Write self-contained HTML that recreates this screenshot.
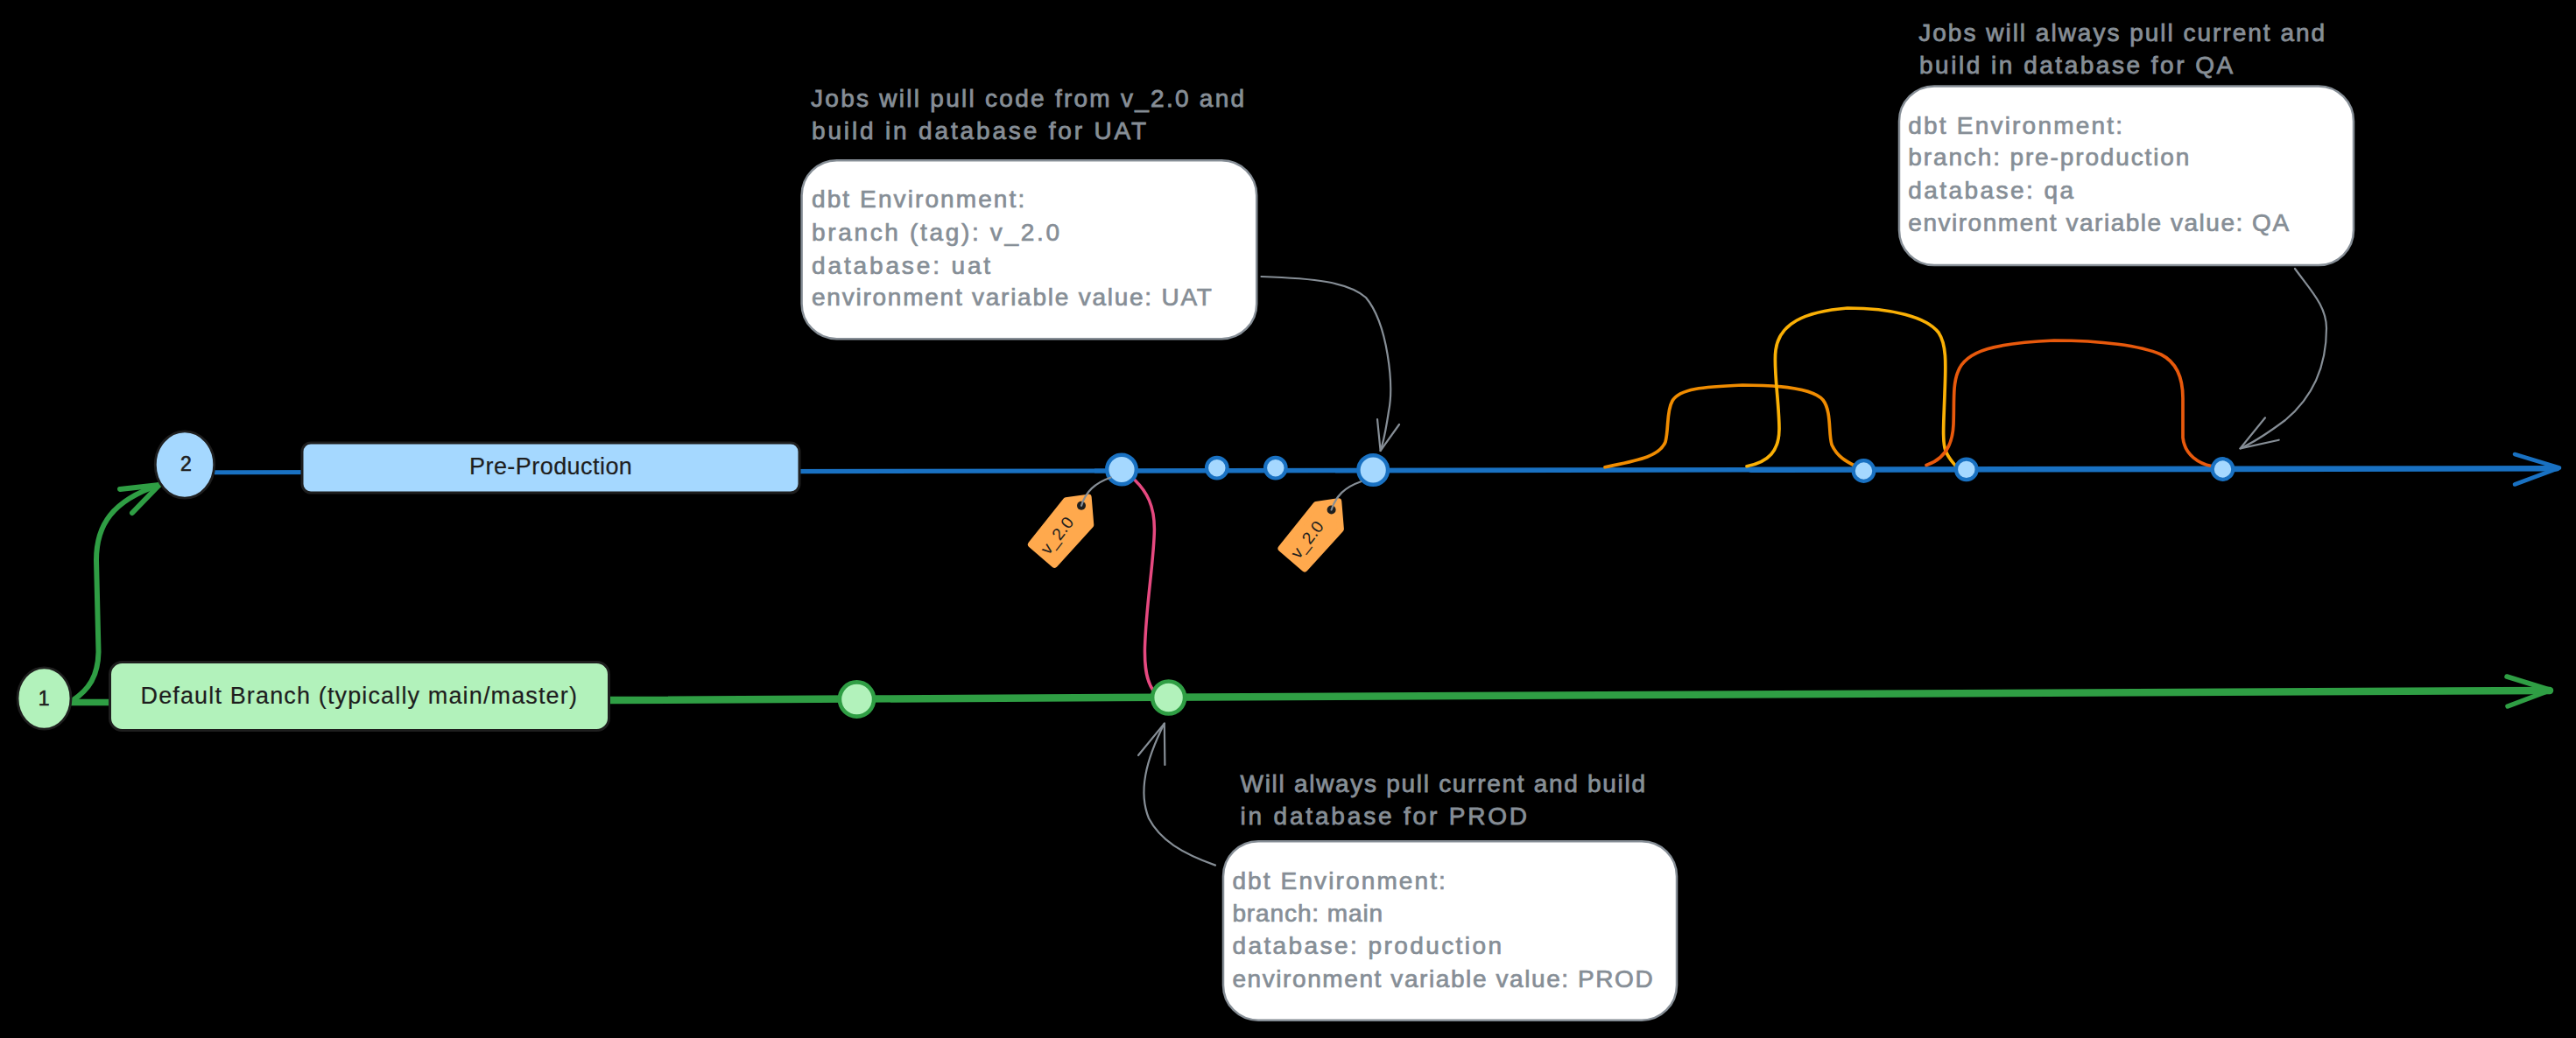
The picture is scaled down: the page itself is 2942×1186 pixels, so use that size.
<!DOCTYPE html>
<html><head><meta charset="utf-8"><style>
html,body{margin:0;padding:0;background:#000;overflow:hidden}
svg{display:block}
text{font-family:"Liberation Sans", sans-serif}
</style></head><body>
<svg width="2942" height="1186" viewBox="0 0 2942 1186">
<rect width="2942" height="1186" fill="#000"/>
<path d="M245,539.70 L1250,538.03" fill="none" stroke="#1971c2" stroke-width="5.1"/>
<path d="M1250,538.03 L2000,536.79" fill="none" stroke="#1971c2" stroke-width="5.6"/>
<path d="M2000,536.79 L2920,535.26" fill="none" stroke="#1971c2" stroke-width="6.6" stroke-linecap="round"/>
<path d="M2872,519 L2923,534.5 L2872,553.5" fill="none" stroke="#1971c2" stroke-width="4.6" stroke-linecap="round" stroke-linejoin="round"/>
<path d="M80,802.4 L124,802.4" fill="none" stroke="#2f9e44" stroke-width="7.5"/>
<path d="M697,799.96 L2912,789.00" fill="none" stroke="#2f9e44" stroke-width="8.5" stroke-linecap="round"/>
<path d="M2863,773 L2913,788.5 L2864,807" fill="none" stroke="#2f9e44" stroke-width="5.5" stroke-linecap="round" stroke-linejoin="round"/>
<path d="M82,801 C102,788 112,772 112.5,745 L110,640 C110,600 128,572 182,554" fill="none" stroke="#2f9e44" stroke-width="6" stroke-linecap="round"/>
<path d="M137,559 L182,554 L151,586" fill="none" stroke="#2f9e44" stroke-width="6" stroke-linecap="round" stroke-linejoin="round"/>
<path d="M1833,533.8 C1870,526 1895,522 1902,505 C1906,490 1903,470 1910,458 C1918,444 1945,442 1990,440 C2030,440 2070,443 2082,457 C2092,470 2088,495 2092,508 C2098,522 2110,528 2118,532" fill="none" stroke="#f08c00" stroke-width="3.7" stroke-linecap="round"/>
<path d="M1995,532.7 C2020,528 2032,515 2032,490 C2032,460 2025,420 2028,400 C2032,370 2060,356 2110,352 C2160,352 2200,362 2214,380 C2224,395 2222,420 2221,450 C2220,480 2218,505 2222,515 C2226,525 2232,530 2234,533" fill="none" stroke="#fab005" stroke-width="3.7" stroke-linecap="round"/>
<path d="M2200,531.5 C2220,525 2230,510 2231,485 C2232,460 2230,440 2236,425 C2245,400 2280,392 2346,389 C2400,389 2445,395 2468,405 C2488,415 2493,435 2493,455 L2493,500 C2495,520 2512,530 2526,532.5" fill="none" stroke="#e8590c" stroke-width="3.7" stroke-linecap="round"/>
<path d="M1295.6,548 C1310,562 1318.5,578 1318.4,605 C1318,640 1309,690 1307.5,740 C1307,765 1310,778 1316.4,788" fill="none" stroke="#e64980" stroke-width="3.5" stroke-linecap="round"/>
<rect x="345" y="506" width="568" height="57" rx="10" fill="#a5d8ff" stroke="#1e1e1e" stroke-width="3"/>
<rect x="125.5" y="756.5" width="570" height="78" rx="14" fill="#b2f2bb" stroke="#1e1e1e" stroke-width="3"/>
<ellipse cx="211" cy="531" rx="33.7" ry="38.2" fill="#a5d8ff" stroke="#1e1e1e" stroke-width="2.8"/>
<ellipse cx="50.5" cy="798" rx="30.5" ry="35.1" fill="#b2f2bb" stroke="#1e1e1e" stroke-width="2.8"/>
<circle cx="1281" cy="536.5" r="16.8" fill="#a5d8ff" stroke="#1971c2" stroke-width="4.4"/>
<circle cx="1389.8" cy="534.7" r="11.8" fill="#a5d8ff" stroke="#1971c2" stroke-width="4.2"/>
<circle cx="1456.8" cy="534.7" r="11.8" fill="#a5d8ff" stroke="#1971c2" stroke-width="4.2"/>
<circle cx="1568.2" cy="537" r="16.8" fill="#a5d8ff" stroke="#1971c2" stroke-width="4.4"/>
<circle cx="2128.5" cy="538" r="11.8" fill="#a5d8ff" stroke="#1971c2" stroke-width="4.2"/>
<circle cx="2245.8" cy="536.4" r="11.8" fill="#a5d8ff" stroke="#1971c2" stroke-width="4.2"/>
<circle cx="2538.5" cy="536" r="11.8" fill="#a5d8ff" stroke="#1971c2" stroke-width="4.2"/>
<circle cx="978.5" cy="799" r="19.6" fill="#b2f2bb" stroke="#2f9e44" stroke-width="4.6"/>
<circle cx="1334.6" cy="797" r="18.5" fill="#b2f2bb" stroke="#2f9e44" stroke-width="4.6"/>
<rect x="915.6" y="183.2" width="519.6" height="204" rx="40" fill="#fff" stroke="#868e96" stroke-width="2.5"/>
<rect x="2169" y="98.5" width="519" height="204.5" rx="40" fill="#fff" stroke="#868e96" stroke-width="2.5"/>
<rect x="1397" y="961.2" width="518" height="204.5" rx="40" fill="#fff" stroke="#868e96" stroke-width="2.5"/>
<path d="M1440.5,316 C1500,318 1540,322 1560,340 C1585,370 1592,440 1586,470 C1583,490 1580,505 1576.6,515" fill="none" stroke="#868e96" stroke-width="2.2" stroke-linecap="round"/>
<path d="M1573,479 L1576.6,515 L1598,485" fill="none" stroke="#868e96" stroke-width="2.2" stroke-linecap="round" stroke-linejoin="round"/>
<path d="M2621,307 C2640,333 2657,350 2657,375 C2657,420 2640,455 2610,480 C2590,495 2575,505 2558.5,512.4" fill="none" stroke="#868e96" stroke-width="2.2" stroke-linecap="round"/>
<path d="M2587,477.3 L2558.5,512.4 L2602.7,502.7" fill="none" stroke="#868e96" stroke-width="2.2" stroke-linecap="round" stroke-linejoin="round"/>
<path d="M1388,988.6 C1350,975 1325,960 1312,935 C1300,905 1308,870 1329.8,826.6" fill="none" stroke="#868e96" stroke-width="2.2" stroke-linecap="round"/>
<path d="M1300,863 L1329.8,826.6 L1330.4,874" fill="none" stroke="#868e96" stroke-width="2.2" stroke-linecap="round" stroke-linejoin="round"/>
<g transform="translate(0,0)"><path d="M1217.5,572.1 L1242.9,568.4 L1245.5,599.7 L1204.4,645.0 L1177.7,622.0 Z" fill="#ffa94d" stroke="#ffa94d" stroke-width="7.6" stroke-linejoin="round"/><circle cx="1235" cy="577.8" r="5" fill="#1e1e1e"/><path d="M1235,577.8 C1240,562 1250,552 1268.7,545.5" fill="none" stroke="#868e96" stroke-width="2.2" stroke-linecap="round"/><text x="0" y="0.5" font-size="19" fill="#1e1e1e" text-anchor="middle" transform="translate(1212,615.5) rotate(-52)" textLength="48" lengthAdjust="spacingAndGlyphs">v_2.0</text></g>
<g transform="translate(285.6,4.7)"><path d="M1217.5,572.1 L1242.9,568.4 L1245.5,599.7 L1204.4,645.0 L1177.7,622.0 Z" fill="#ffa94d" stroke="#ffa94d" stroke-width="7.6" stroke-linejoin="round"/><circle cx="1235" cy="577.8" r="5" fill="#1e1e1e"/><path d="M1235,577.8 C1240,562 1250,552 1268.7,545.5" fill="none" stroke="#868e96" stroke-width="2.2" stroke-linecap="round"/><text x="0" y="0.5" font-size="19" fill="#1e1e1e" text-anchor="middle" transform="translate(1212,615.5) rotate(-52)" textLength="48" lengthAdjust="spacingAndGlyphs">v_2.0</text></g>
<text x="212.5" y="538.3" font-size="23" fill="#1e1e1e" stroke="#1e1e1e" stroke-width="0.6" text-anchor="middle">2</text>
<text x="50.2" y="805.8" font-size="23" fill="#1e1e1e" stroke="#1e1e1e" stroke-width="0.6" text-anchor="middle">1</text>
<text x="926.1" y="122.3" textLength="495.0" lengthAdjust="spacing" font-size="28" font-weight="normal" fill="#868e96" stroke="#868e96" stroke-width="0.8">Jobs will pull code from v_2.0 and</text>
<text x="927.0" y="158.6" textLength="382.1" lengthAdjust="spacing" font-size="28" font-weight="normal" fill="#868e96" stroke="#868e96" stroke-width="0.8">build in database for UAT</text>
<text x="927.0" y="237.0" textLength="243.2" lengthAdjust="spacing" font-size="28" font-weight="normal" fill="#868e96" stroke="#868e96" stroke-width="0.7">dbt Environment:</text>
<text x="927.0" y="275.2" textLength="283.0" lengthAdjust="spacing" font-size="28" font-weight="normal" fill="#868e96" stroke="#868e96" stroke-width="0.7">branch (tag): v_2.0</text>
<text x="927.0" y="312.6" textLength="204.1" lengthAdjust="spacing" font-size="28" font-weight="normal" fill="#868e96" stroke="#868e96" stroke-width="0.7">database: uat</text>
<text x="927.0" y="349.1" textLength="456.9" lengthAdjust="spacing" font-size="28" font-weight="normal" fill="#868e96" stroke="#868e96" stroke-width="0.7">environment variable value: UAT</text>
<text x="2191.3" y="46.5" textLength="463.8" lengthAdjust="spacing" font-size="28" font-weight="normal" fill="#868e96" stroke="#868e96" stroke-width="0.8">Jobs will always pull current and</text>
<text x="2192.0" y="83.8" textLength="358.3" lengthAdjust="spacing" font-size="28" font-weight="normal" fill="#868e96" stroke="#868e96" stroke-width="0.8">build in database for QA</text>
<text x="2179.3" y="152.6" textLength="244.7" lengthAdjust="spacing" font-size="28" font-weight="normal" fill="#868e96" stroke="#868e96" stroke-width="0.7">dbt Environment:</text>
<text x="2179.3" y="188.9" textLength="321.1" lengthAdjust="spacing" font-size="28" font-weight="normal" fill="#868e96" stroke="#868e96" stroke-width="0.7">branch: pre-production</text>
<text x="2179.3" y="227.1" textLength="188.8" lengthAdjust="spacing" font-size="28" font-weight="normal" fill="#868e96" stroke="#868e96" stroke-width="0.7">database: qa</text>
<text x="2179.3" y="264.4" textLength="434.8" lengthAdjust="spacing" font-size="28" font-weight="normal" fill="#868e96" stroke="#868e96" stroke-width="0.7">environment variable value: QA</text>
<text x="1416.5" y="904.9" textLength="462.5" lengthAdjust="spacing" font-size="28" font-weight="normal" fill="#868e96" stroke="#868e96" stroke-width="0.8">Will always pull current and build</text>
<text x="1416.5" y="941.8" textLength="327.6" lengthAdjust="spacing" font-size="28" font-weight="normal" fill="#868e96" stroke="#868e96" stroke-width="0.8">in database for PROD</text>
<text x="1407.4" y="1016.0" textLength="243.5" lengthAdjust="spacing" font-size="28" font-weight="normal" fill="#868e96" stroke="#868e96" stroke-width="0.7">dbt Environment:</text>
<text x="1407.4" y="1052.9" textLength="171.7" lengthAdjust="spacing" font-size="28" font-weight="normal" fill="#868e96" stroke="#868e96" stroke-width="0.7">branch: main</text>
<text x="1407.4" y="1089.8" textLength="307.6" lengthAdjust="spacing" font-size="28" font-weight="normal" fill="#868e96" stroke="#868e96" stroke-width="0.7">database: production</text>
<text x="1407.4" y="1127.7" textLength="480.3" lengthAdjust="spacing" font-size="28" font-weight="normal" fill="#868e96" stroke="#868e96" stroke-width="0.7">environment variable value: PROD</text>
<text x="536.0" y="542.0" textLength="185.9" lengthAdjust="spacing" font-size="27" font-weight="normal" fill="#1e1e1e" stroke="#1e1e1e" stroke-width="0.2">Pre-Production</text>
<text x="160.5" y="804.0" textLength="498.4" lengthAdjust="spacing" font-size="27" font-weight="normal" fill="#1e1e1e" stroke="#1e1e1e" stroke-width="0.2">Default Branch (typically main/master)</text>
</svg>
</body></html>
